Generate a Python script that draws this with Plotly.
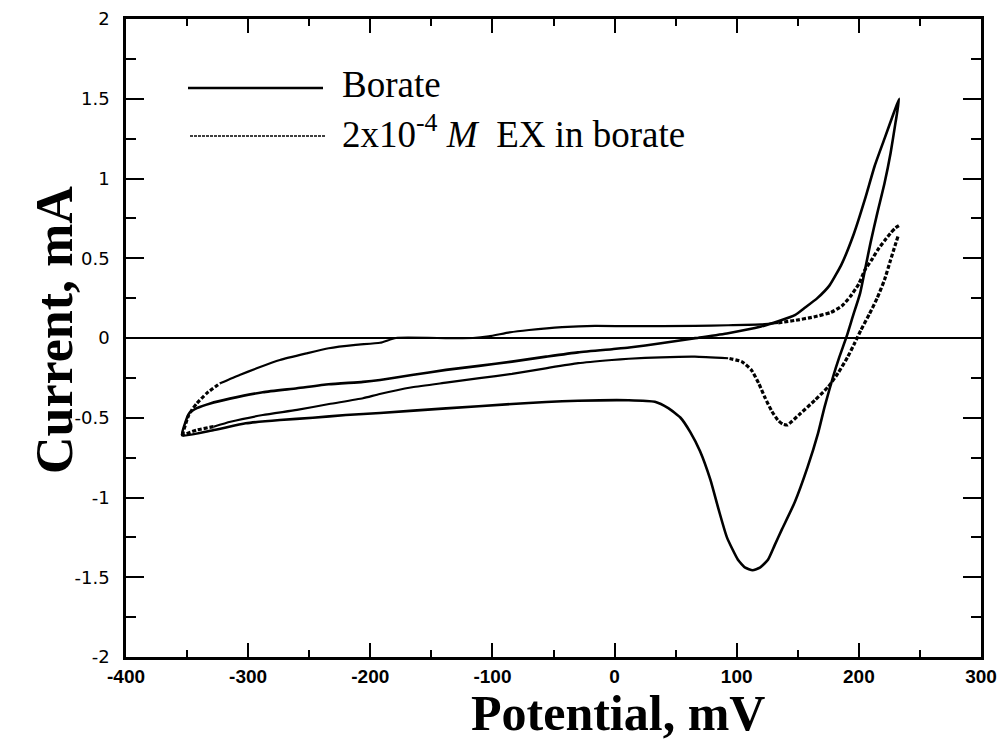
import plotly.graph_objects as go

# ---------------- data ----------------
# Borate, forward (anodic) scan: potential (mV), current (mA)
bor_fwd_x = [-354, -351, -348, -342, -331, -315, -288, -260, -234, -206, -192, -166, -138, -111,
             -84, -56, -30, -2, 12, 38, 66, 93, 120, 134, 148, 155, 166, 176, 186, 196, 205, 213,
             221, 229, 233]
bor_fwd_y = [-0.61, -0.52, -0.47, -0.44, -0.41, -0.38, -0.34, -0.315, -0.29, -0.275, -0.263, -0.232,
             -0.20, -0.175, -0.148, -0.117, -0.09, -0.07, -0.06, -0.033, -0.001, 0.03, 0.072, 0.105,
             0.145, 0.185, 0.25, 0.33, 0.465, 0.655, 0.87, 1.08, 1.25, 1.42, 1.50]
# Borate, reverse (cathodic) scan
bor_rev_x = [230, 226, 221, 215, 209.5, 205, 201, 195, 190, 184, 179, 172, 166.5, 158, 147.5, 137,
             131, 125.6, 119, 113, 107, 101, 92, 85, 78.5, 70, 62, 54, 44, 33, 11.6, -30, -56, -84,
             -138, -192, -220, -247, -274, -302, -328, -354]
bor_rev_y = [1.35, 1.16, 0.97, 0.78, 0.595, 0.427, 0.28, 0.134, 0.01, -0.12, -0.24, -0.43, -0.60,
             -0.81, -1.03, -1.20, -1.30, -1.39, -1.44, -1.456, -1.44, -1.39, -1.25, -1.07, -0.89,
             -0.71, -0.59, -0.50, -0.44, -0.40, -0.39, -0.393, -0.401, -0.414, -0.441, -0.47, -0.483,
             -0.50, -0.514, -0.535, -0.577, -0.61]

# 2x10^-4 M EX in borate, forward scan
ex_fwd_x = [-354, -349, -346, -342, -334, -323, -307, -293, -274, -252, -234, -212, -192, -179, -145,
            -116, -103, -86, -70, -43, -16, 11.6, 66, 93, 120, 134, 147.5, 163, 177, 186, 193, 200,
            205, 210.5, 215.5, 221, 226, 230, 234]
ex_fwd_y = [-0.61, -0.49, -0.45, -0.41, -0.347, -0.284, -0.232, -0.19, -0.138, -0.096, -0.064,
            -0.043, -0.03, 0.0, 0.0, 0.0, 0.01, 0.035, 0.05, 0.068, 0.076, 0.074, 0.076, 0.08, 0.085,
            0.095, 0.11, 0.132, 0.16, 0.20, 0.26, 0.34, 0.427, 0.49, 0.553, 0.61, 0.658, 0.69, 0.71]
# EX, reverse scan
ex_rev_x = [232, 226, 221, 215, 208.6, 201.7, 196.7, 190.8, 183, 175, 164, 152.4, 145.5, 141.6,
            137.6, 133.7, 128.8, 122.9, 118, 112, 104, 93, 65.7, 38, 11.6, -2.2, -29.8, -56.4, -84,
            -110.6, -138, -165.7, -192.3, -206, -233.7, -260, -288, -314.5, -328.3, -342, -354]
ex_rev_y = [0.637, 0.49, 0.365, 0.25, 0.15, 0.05, -0.03, -0.12, -0.22, -0.305, -0.39, -0.472, -0.52,
            -0.545, -0.54, -0.515, -0.46, -0.37, -0.284, -0.20, -0.148, -0.127, -0.117, -0.121, -0.13,
            -0.138, -0.158, -0.19, -0.225, -0.252, -0.28, -0.309, -0.351, -0.378, -0.414, -0.451,
            -0.483, -0.525, -0.556, -0.577, -0.61]

x_tick_vals = [-400, -300, -200, -100, 0, 100, 200, 300]
x_tick_text = ["-400", "-300", "-200", "-100", "0", "100", "200", "300"]
x_minor_vals = [-350, -250, -150, -50, 50, 150, 250]
y_tick_vals = [-2, -1.5, -1, -0.5, 0, 0.5, 1, 1.5, 2]
y_tick_text = ["-2", "-1.5", "-1", "-0.5", "0", "0.5", "1", "1.5", "2"]
y_minor_vals = [-1.75, -1.25, -0.75, -0.25, 0.25, 0.75, 1.25, 1.75]

series_names = ["Borate", "2x10<sup>-4</sup> <i>M</i>\u00a0\u00a0EX in borate"]
x_title = "Potential, mV"
y_title = "Current, mA"

# ---------------- figure ----------------
fig = go.Figure()

bor_x = bor_fwd_x + bor_rev_x
bor_y = bor_fwd_y + bor_rev_y
fig.add_trace(go.Scatter(x=bor_x, y=bor_y, mode="lines", name=series_names[0],
                         line=dict(color="black", width=2.6, shape="spline", smoothing=0.5),
                         showlegend=False, hoverinfo="x+y"))


def style_runs(xs, dotted_fn):
    """Group consecutive segments by line style (steep parts look dotted in the original)."""
    styles = [dotted_fn((xs[i] + xs[i + 1]) / 2.0) for i in range(len(xs) - 1)]
    runs, s = [], 0
    for i in range(1, len(styles) + 1):
        if i == len(styles) or styles[i] != styles[s]:
            runs.append((s, i, styles[s]))
            s = i
    return runs


def add_ex(xs, ys, dotted_fn):
    for a, b, dotted in style_runs(xs, dotted_fn):
        if dotted:
            line = dict(color="black", width=3.2, dash="4px,2px", shape="spline", smoothing=0.5)
        else:
            line = dict(color="black", width=2.2, shape="spline", smoothing=0.5)
        fig.add_trace(go.Scatter(x=xs[a:b + 1], y=ys[a:b + 1], mode="lines", name=series_names[1],
                                 line=line, showlegend=False, hoverinfo="x+y"))


add_ex(ex_fwd_x, ex_fwd_y, lambda m: m < -326 or m > 140)
add_ex(ex_rev_x, ex_rev_y, lambda m: m > 97 or m < -326)

tick_font_x = dict(family="Liberation Sans", size=19, color="black", weight="bold")
tick_font_y = dict(family="DejaVu Sans", size=18, color="black")

fig.update_xaxes(range=[-400, 300], tickmode="array", tickvals=x_tick_vals, ticktext=x_tick_text,
                 ticks="inside", ticklen=14, tickwidth=2, tickcolor="black",
                 minor=dict(tickmode="array", tickvals=x_minor_vals, ticks="inside", ticklen=7,
                            tickwidth=2, tickcolor="black", showgrid=False),
                 showline=True, linewidth=2.5, linecolor="black", mirror="allticks",
                 showgrid=False, zeroline=False, tickfont=tick_font_x)
fig.update_yaxes(range=[-2, 2], tickmode="array", tickvals=y_tick_vals, ticktext=y_tick_text,
                 ticks="inside", ticklen=18, tickwidth=2, tickcolor="black",
                 minor=dict(tickmode="array", tickvals=y_minor_vals, ticks="inside", ticklen=10,
                            tickwidth=2, tickcolor="black", showgrid=False),
                 showline=True, linewidth=2.5, linecolor="black", mirror="allticks",
                 showgrid=False, zeroline=True, zerolinecolor="black", zerolinewidth=1.6,
                 tickfont=tick_font_y, ticklabelstandoff=10)

# The page adds an 8 px body margin, so the figure is a little smaller than the window.
OFF = 8
W, H = 989, 734
L, R, T, B = 118, 16, 11, 85
pw, ph = W - L - R, H - T - B


def px(page_x):
    return (page_x - OFF - L) / pw


def py(page_y):
    return (H - B - (page_y - OFF)) / ph


shapes = [
    dict(type="line", xref="paper", yref="paper", x0=px(188), x1=px(323), y0=py(88), y1=py(88),
         line=dict(color="black", width=2.4)),
    dict(type="line", xref="paper", yref="paper", x0=px(190), x1=px(325), y0=py(136), y1=py(136),
         line=dict(color="black", width=1.6, dash="3px,1px")),
]
annotations = [
    dict(text=series_names[0], xref="paper", yref="paper", x=px(340), y=py(84), xanchor="left",
         yanchor="middle", showarrow=False,
         font=dict(family="Liberation Serif", size=37, color="black")),
    dict(text=series_names[1], xref="paper", yref="paper", x=px(340), y=py(132), xanchor="left",
         yanchor="middle", showarrow=False,
         font=dict(family="Liberation Serif", size=37, color="black")),
    dict(text="<b>" + x_title + "</b>", xref="paper", yref="paper", x=px(618), y=py(713),
         xanchor="center", yanchor="middle", showarrow=False,
         font=dict(family="Liberation Serif", size=50, color="black")),
    dict(text="<b>" + y_title + "</b>", xref="paper", yref="paper", x=px(54), y=py(330),
         xanchor="center", yanchor="middle", showarrow=False, textangle=-90,
         font=dict(family="Liberation Serif", size=52, color="black")),
]

fig.update_layout(width=W, height=H, margin=dict(l=L, r=R, t=T, b=B, autoexpand=False),
                  paper_bgcolor="white", plot_bgcolor="white", showlegend=False,
                  shapes=shapes, annotations=annotations)

fig.write_html("out.html")
